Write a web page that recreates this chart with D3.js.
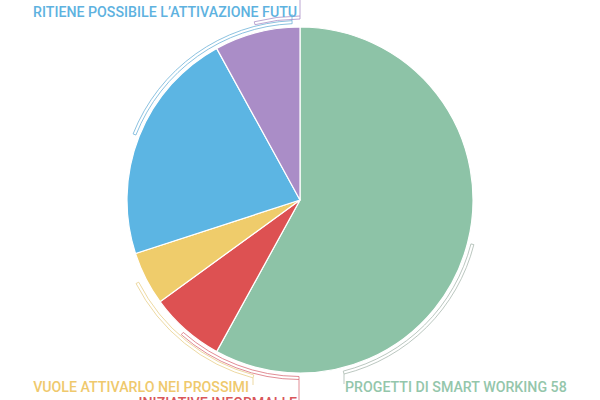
<!DOCTYPE html>
<html>
<head>
<meta charset="utf-8">
<script src="https://cdn.jsdelivr.net/npm/d3@7"></script>
<style>
  html, body { margin: 0; padding: 0; background: #fff; }
  svg { display: block; }
  text { font-family: Roboto, "Open Sans", sans-serif; }
</style>
</head>
<body>
<svg id="chart" width="600" height="400"></svg>
<script>
// ---- data ----
const categories = [
  "PROGETTI DI SMART WORKING",
  "INIZIATIVE INFORMALI E",
  "VUOLE ATTIVARLO NEI PROSSIMI",
  "RITIENE POSSIBILE L\u2019ATTIVAZIONE FUTU",
  ""
];
const values = [58, 7, 5, 22, 8];
const showValue = [true, false, false, false, false];
const sliceColors = ["#8dc3a7", "#dd5152", "#efcc6b", "#5cb5e3", "#aa8dc7"];
const labelColors = ["#94c6ab", "#d9575a", "#efc96d", "#5eb2df", "#aa8dc7"];
const bracketColors = ["#a9b9b0", "#d9707a", "#e8cf8a", "#6fb2d8", "#a98fc6"];

// ---- layout ----
const W = 600, H = 400;
const cx = 300, cy = 200, R = 173;
// label placement (layout only): x of tail, label baseline, anchor, ring level
const labelLayout = [
  { tx: 344, ty: 384, lx: 345, ly: 392, anchor: "start", level: 0 },
  { tx: 299, ty: 410, lx: 297, ly: 408, anchor: "end",   level: 0 },
  { tx: 253, ty: 385, lx: 249, ly: 392, anchor: "end",   level: 1 },
  { tx: 292, ty: 14,  lx: 33,  ly: 17,  anchor: "start", level: 0 },
  { tx: 300, ty: -10, lx: 300, ly: -12, anchor: "middle", level: 1 }
];

const svg = d3.select("#chart");
const g = svg.append("g").attr("transform", `translate(${cx},${cy})`);

const pie = d3.pie().sort(null).value(d => d);
const arcs = pie(values);
const arc = d3.arc().innerRadius(0).outerRadius(R);

g.selectAll("path.slice")
  .data(arcs)
  .enter().append("path")
  .attr("class", "slice")
  .attr("d", arc)
  .attr("fill", (d, i) => sliceColors[i])
  .attr("stroke", "#fff")
  .attr("stroke-width", 1.2);

// brackets
arcs.forEach((d, i) => {
  const L = labelLayout[i];
  const mid = (d.startAngle + d.endAngle) / 2;
  const rIn = R + 3.5 + L.level * 4.5;
  const rOut = rIn + 3;
  let s = Math.asin(Math.max(-1, Math.min(1, (L.tx - cx) / rOut)));
  let endA;
  if (L.ty > 200) {
    endA = Math.PI - s;
  } else {
    endA = s < 0 ? 2 * Math.PI + s : s;
    if (endA < 0.0001) endA = 2 * Math.PI;
  }
  const a0 = Math.min(mid, endA), a1 = Math.max(mid, endA);
  const band = d3.arc().innerRadius(rIn).outerRadius(rOut).startAngle(a0).endAngle(a1);
  g.append("path")
    .attr("d", band())
    .attr("fill", "none")
    .attr("stroke", bracketColors[i])
    .attr("stroke-width", 0.8);
  const ex = Math.sin(endA) * rOut, ey = -Math.cos(endA) * rOut;
  g.append("line")
    .attr("x1", ex).attr("y1", ey)
    .attr("x2", L.tx - cx).attr("y2", L.ty - cy)
    .attr("stroke", bracketColors[i])
    .attr("stroke-width", 0.8);
});

// labels
arcs.forEach((d, i) => {
  const L = labelLayout[i];
  if (!categories[i]) return;
  const txt = categories[i] + (showValue[i] ? " " + values[i] : "");
  svg.append("text")
    .attr("x", L.lx).attr("y", L.ly)
    .attr("text-anchor", L.anchor)
    .attr("fill", labelColors[i])
    .attr("font-size", 14.2)
    .attr("font-weight", 500)
    .text(txt);
});
</script>
</body>
</html>
